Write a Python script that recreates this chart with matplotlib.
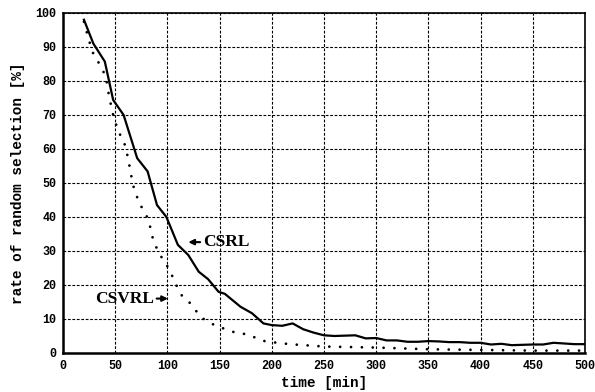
import matplotlib
matplotlib.use("Agg")
import matplotlib.pyplot as plt

# Data
t_csrl = [20, 29, 40, 48, 58, 71, 81, 90, 99, 110, 120, 130, 139, 149, 155, 170, 181,
          192, 200, 210, 220, 230, 240, 250, 260, 270, 280, 290, 300, 310, 320, 330,
          340, 350, 360, 370, 380, 390, 400, 410, 420, 430, 440, 450, 460, 470, 480,
          490, 500]
csrl = [98, 91, 85.7, 74.4, 70, 57.3, 53.4, 43.5, 40, 31.8, 28.8, 23.9, 21.7, 18, 17.4, 13.6, 11.7,
        8.7, 8.2, 8.0, 8.7, 7, 6, 5.2, 5.0, 5.1, 5.2, 4.3, 4.4, 3.7, 3.7, 3.3,
        3.3, 3.5, 3.4, 3.2, 3.2, 3.0, 3.0, 2.5, 2.7, 2.3, 2.4, 2.5, 2.5, 3.0, 2.8,
        2.6, 2.6]

t_csvrl = [20, 23, 28, 33, 37, 41, 44, 48, 53, 58, 62, 67, 73, 78, 82, 86, 89, 93, 98,
           102, 106, 110, 114, 119, 126, 131, 139, 147, 156, 165, 174, 182, 191, 200,
           217, 250, 300, 350, 400, 450, 500]
csvrl = [97.4, 94, 88.6, 86, 83.7, 81.3, 75.6, 70, 65, 62.6, 57.7, 49.4, 44, 41.6, 39,
         33.7, 31.3, 28.8, 26.5, 24.4, 21.7, 19, 16.8, 15.6, 13.1, 10.7, 9.2, 7.9, 7.0,
         6.0, 5.6, 4.8, 3.6, 3.2, 2.6, 1.9, 1.6, 1.1, 0.9, 0.7, 0.7]

x_ticks = [0, 50, 100, 150, 200, 250, 300, 350, 400, 450, 500]
y_ticks = [0, 10, 20, 30, 40, 50, 60, 70, 80, 90, 100]

mono = "Liberation Mono"
serif = "Liberation Serif"

fig = plt.figure(figsize=(5.95, 3.92), dpi=100)
ax = fig.add_axes([0.106, 0.0995, 0.877, 0.8675])

ax.plot(t_csrl, csrl, color="black", lw=1.6, solid_joinstyle="round")
ax.plot(t_csvrl, csvrl, color="black", lw=2.0, linestyle=(0, (0.01, 3.9)),
        dash_capstyle="round")

ax.set_xlim(0, 500)
ax.set_ylim(0, 100)
ax.set_xticks(x_ticks)
ax.set_yticks(y_ticks)
ax.set_xticklabels([str(v) for v in x_ticks], fontfamily=mono, fontweight="bold", fontsize=8.5)
ax.set_yticklabels([str(v) for v in y_ticks], fontfamily=mono, fontweight="bold", fontsize=8.5)
ax.tick_params(length=0, pad=5)
ax.grid(True, color="black", linestyle=(0, (2.5, 1.5)), linewidth=0.8)

for side in ["top", "right"]:
    ax.spines[side].set_linewidth(1.2)
for side in ["left", "bottom"]:
    ax.spines[side].set_linewidth(1.8)

ax.set_xlabel("time [min]", fontfamily=mono, fontweight="bold", fontsize=10.4, labelpad=3)
ax.set_ylabel("rate of random selection [%]", fontfamily=mono, fontweight="bold",
              fontsize=10.4, labelpad=7)

ax.annotate("CSRL", xy=(120, 32.6), xytext=(134, 32.6), fontfamily=serif, fontweight="bold",
            fontsize=12.5, va="center", ha="left",
            arrowprops=dict(arrowstyle="-|>", color="black", lw=1.5, shrinkA=0, shrinkB=0,
                            mutation_scale=8))
ax.annotate("CSVRL", xy=(100.5, 16), xytext=(87, 16), fontfamily=serif, fontweight="bold",
            fontsize=12.5, va="center", ha="right",
            arrowprops=dict(arrowstyle="-|>", color="black", lw=1.5, shrinkA=0, shrinkB=0,
                            mutation_scale=8))

fig.savefig("out.png", dpi=100)
